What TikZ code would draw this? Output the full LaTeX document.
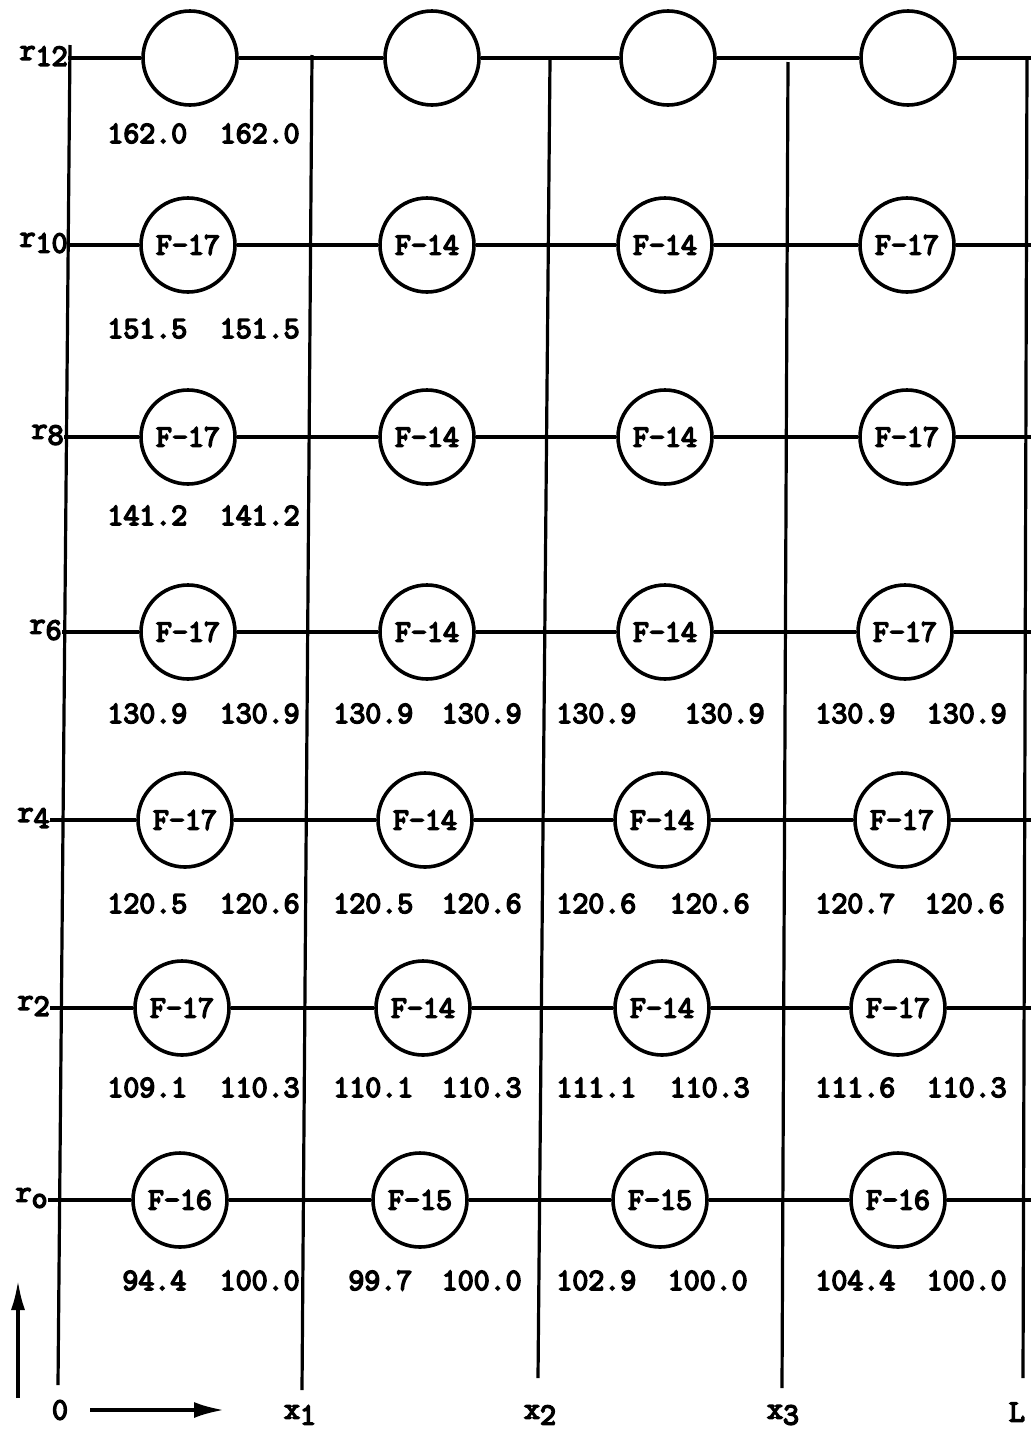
\documentclass[tikz,border=0pt]{standalone}
\usepackage{fontspec}
\newfontfamily\twfont[RawFeature={embolden=5}]{Latin Modern Mono}
\usetikzlibrary{arrows.meta}
\tikzset{
  tw/.style={font=\fontsize{15.5}{17}\selectfont\twfont, inner sep=0pt},
  cell/.style={circle, draw, line width=1.8pt, minimum size=47pt, inner sep=0pt, tw},
  grid/.style={line width=1.6pt},
  rlab/.style={tw, anchor=east}
}
\newcommand{\rr}[1]{r\raisebox{-0.45ex}{#1}}
\begin{document}
\begin{tikzpicture}[x=0.5pt,y=-0.5pt]
\useasboundingbox (0,0) rectangle (1031,1435);
% vertical lines
\coordinate (v0t) at (70,45);    \coordinate (v0b) at (58,1385);
\coordinate (v1t) at (312,55);   \coordinate (v1b) at (302,1390);
\coordinate (v2t) at (550,60);   \coordinate (v2b) at (538,1378);
\coordinate (v3t) at (788,62);   \coordinate (v3b) at (782,1388);
\coordinate (v4t) at (1027,60);  \coordinate (v4b) at (1023,1378);
\foreach \i in {0,...,4} {\draw[grid] (v\i t) -- (v\i b);}
% rows
\foreach \n/\lab/\y/\ax/\cx/\cy/\cz/\cw/\ta/\tb/\tc/\td in {
  r12/12/58/68/190/432/668/908/{}/{}/{}/{},
  r10/10/245/68/188/427/665/907/F-17/F-14/F-14/F-17,
  r8/8/437/64/188/427/665/907/F-17/F-14/F-14/F-17,
  r6/6/632/62/188/427/665/905/F-17/F-14/F-14/F-17,
  r4/4/820/50/185/425/662/902/F-17/F-14/F-14/F-17,
  r2/2/1008/50/182/423/662/898/F-17/F-14/F-14/F-17,
  r0/o/1200/48/180/420/660/898/F-16/F-15/F-15/F-16} {
  \coordinate (\n s) at (\ax,\y);
  \node[rlab] (\n lab) at (\ax,\y-2) {\rr{\lab}};
  \node[cell] (\n c1) at (\cx,\y) {\ta};
  \node[cell] (\n c2) at (\cy,\y) {\tb};
  \node[cell] (\n c3) at (\cz,\y) {\tc};
  \node[cell] (\n c4) at (\cw,\y) {\td};
  \coordinate (\n e) at (1031,\y);
  \draw[grid] (\n s) -- (\n c1) -- (\n c2) -- (\n c3) -- (\n c4) -- (\n e);
}
% values
\tikzset{lv/.style={tw, anchor=base west}, rv/.style={tw, anchor=base east}}
\node[lv] (a12l) at (107,143) {162.0};  \node[rv] (a12r) at (300,143) {162.0};
\node[lv] (a10l) at (107,338) {151.5};  \node[rv] (a10r) at (300,338) {151.5};
\node[lv] (a8l)  at (107,525) {141.2};  \node[rv] (a8r)  at (300,525) {141.2};
% r6
\node[lv] (a6l1) at (107,723) {130.9};  \node[rv] (a6r1) at (300,723) {130.9};
\node[lv] (a6l2) at (333,723) {130.9};  \node[rv] (a6r2) at (522,723) {130.9};
\node[lv] (a6l3) at (556,723) {130.9};  \node[rv] (a6r3) at (765,723) {130.9};
\node[lv] (a6l4) at (815,723) {130.9};  \node[rv] (a6r4) at (1007,723) {130.9};
% r4
\node[lv] (a4l1) at (107,913) {120.5};  \node[rv] (a4r1) at (300,913) {120.6};
\node[lv] (a4l2) at (333,913) {120.5};  \node[rv] (a4r2) at (522,913) {120.6};
\node[lv] (a4l3) at (556,913) {120.6};  \node[rv] (a4r3) at (750,913) {120.6};
\node[lv] (a4l4) at (815,913) {120.7};  \node[rv] (a4r4) at (1005,913) {120.6};
% r2
\node[lv] (a2l1) at (107,1097) {109.1};  \node[rv] (a2r1) at (300,1097) {110.3};
\node[lv] (a2l2) at (333,1097) {110.1};  \node[rv] (a2r2) at (522,1097) {110.3};
\node[lv] (a2l3) at (556,1097) {111.1};  \node[rv] (a2r3) at (750,1097) {110.3};
\node[lv] (a2l4) at (815,1097) {111.6};  \node[rv] (a2r4) at (1007,1097) {110.3};
% r0
\node[lv] (a0l1) at (122,1290) {94.4};   \node[rv] (a0r1) at (300,1290) {100.0};
\node[lv] (a0l2) at (348,1290) {99.7};   \node[rv] (a0r2) at (522,1290) {100.0};
\node[lv] (a0l3) at (556,1290) {102.9};  \node[rv] (a0r3) at (748,1290) {100.0};
\node[lv] (a0l4) at (815,1290) {104.4};  \node[rv] (a0r4) at (1007,1290) {100.0};
% axis labels
\node[tw] (o)  at (60,1410) {0};
\node[tw] (x1) at (300,1415) {x\raisebox{-0.45ex}{1}};
\node[tw] (x2) at (540,1415) {x\raisebox{-0.45ex}{2}};
\node[tw] (x3) at (783,1415) {x\raisebox{-0.45ex}{3}};
\node[tw] (L)  at (1017,1412) {L};
% arrows
\coordinate (hs) at (90,1410); \coordinate (he) at (224,1410);
\draw[line width=1.8pt, -{Latex[length=15pt,width=8pt]}] (hs) -- (he);
\coordinate (vs) at (18,1398); \coordinate (ve) at (18,1280);
\draw[line width=1.8pt, -{Latex[length=15pt,width=7pt]}] (vs) -- (ve);
\end{tikzpicture}
\end{document}
